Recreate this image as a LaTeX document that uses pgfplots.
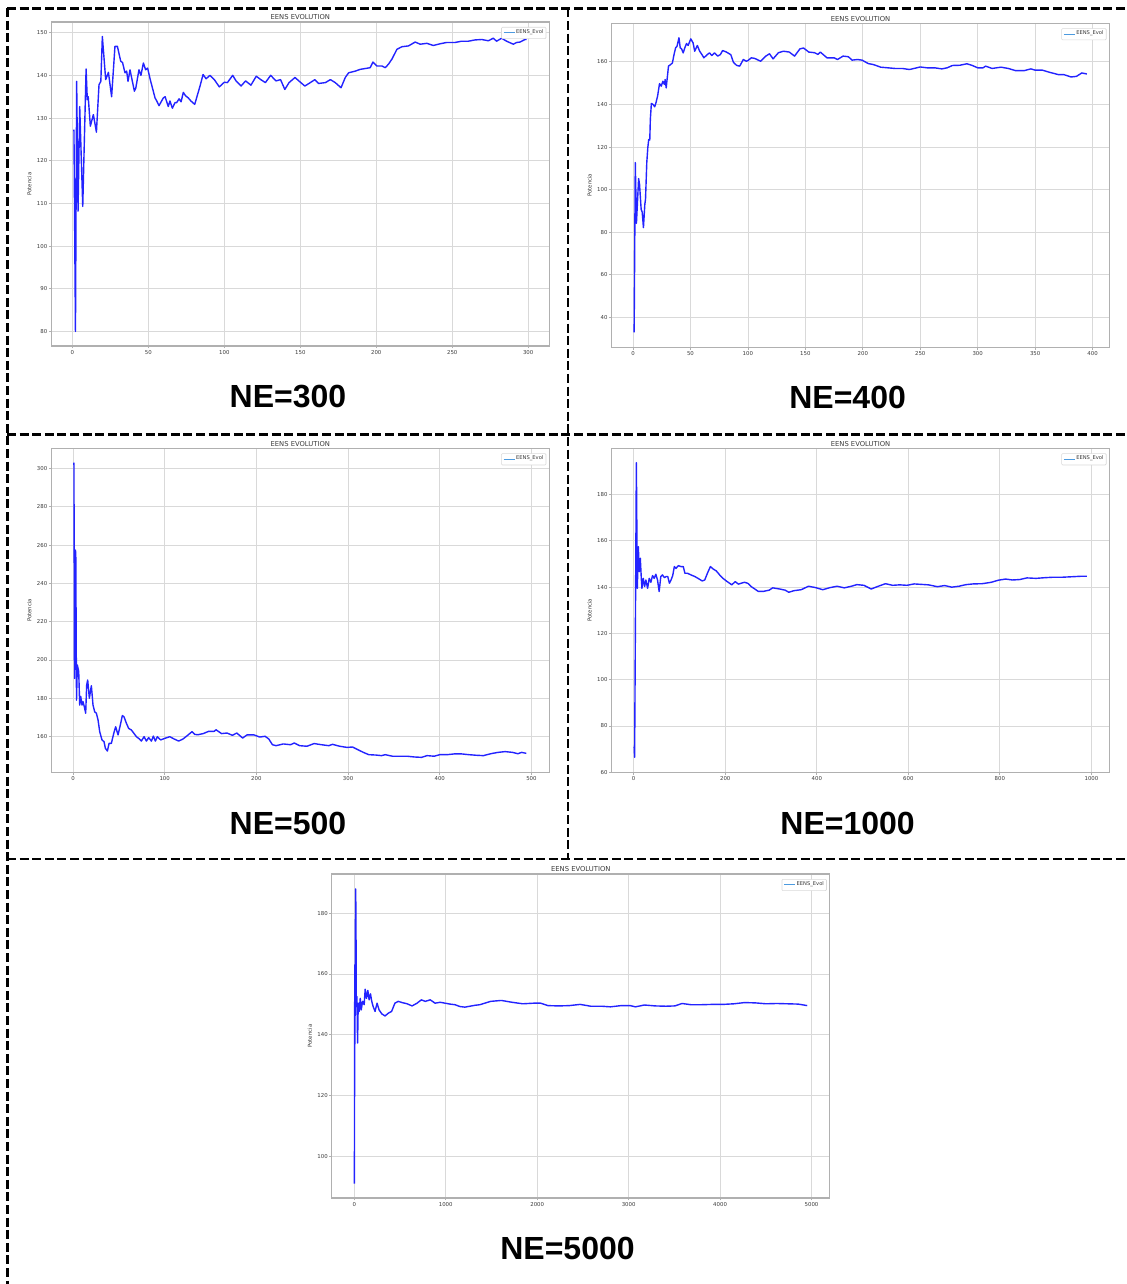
\documentclass[border=0pt]{standalone}
\usepackage{fontspec}
\setmainfont{DejaVu Sans}
\newfontfamily\arialf{Liberation Sans}
\usepackage{pgfplots}
\pgfplotsset{compat=1.18}
\definecolor{gridc}{HTML}{D9D9D9}
\definecolor{framec}{HTML}{B0B0B0}
\definecolor{txtc}{HTML}{3A3A3A}
\definecolor{linec}{RGB}{35,35,255}
\definecolor{legc}{HTML}{4C9BE0}
\pgfplotsset{
  eens/.style={
    scale only axis, width=249pt, height=162pt, anchor=north west,
    axis line style={framec, line width=0.6pt},
    grid=major, grid style={gridc, line width=0.4pt},
    tick align=outside, major tick length=1.2pt,
    tick style={framec, line width=0.4pt},
    xtick pos=bottom, ytick pos=left,
    /pgf/number format/assume math mode=true,
    /pgf/number format/1000 sep={},
    scaled ticks=false,
    ticklabel style={font=\fontsize{2.7}{3}\selectfont, text=txtc, inner sep=0.6pt},
    title={EENS EVOLUTION},
    every axis title/.style={at={(0.5,1)}, anchor=south, yshift=0.4pt, inner sep=0.5pt,
      font=\fontsize{3.4}{4}\selectfont, text=txtc},
    ylabel={Potencia},
    ylabel style={at={(axis description cs:-0.044,0.5)}, anchor=center,
      font=\fontsize{2.7}{3}\selectfont, text=txtc, inner sep=0pt},
    legend style={at={(1,1)}, anchor=north east, xshift=-1.5pt, yshift=-2.5pt,
      draw=gridc, line width=0.3pt, rounded corners=0.5pt,
      font=\fontsize{2.6}{3}\selectfont, text=txtc,
      inner xsep=0.8pt, inner ysep=0.6pt,
      nodes={inner sep=0.5pt}},
    legend image code/.code={\draw[#1] (0pt,0pt) -- (5.5pt,0pt);},
    every axis plot/.append style={linec, line width=0.7pt, line join=round},
  }
}
\begin{document}
\begin{tikzpicture}
\path[use as bounding box] (0pt,0pt) rectangle (563pt,-642pt);
\begin{scope}[line width=1.4pt, dash pattern=on 4.5pt off 1.8pt, black]
\draw (3.5pt,-4.25pt) -- (563pt,-4.25pt);
\draw (3.75pt,-4pt) -- (3.75pt,-642pt);
\draw (284pt,-4.25pt) -- (284pt,-429.5pt);
\draw (3.5pt,-217.25pt) -- (563pt,-217.25pt);
\draw (3.5pt,-429.5pt) -- (563pt,-429.5pt);
\end{scope}

% NE=300
\begin{axis}[eens, at={(25.65pt,-11pt)},
  xmin=-13.9, xmax=313.9, ymin=76.6, ymax=152.5,
  xtick={0,50,...,300}, ytick={80,90,...,150}]
\addlegendimage{color=legc, line width=0.5pt}
\addlegendentry{EENS\_Evol}
\addplot[forget plot] coordinates {
(1,127.3)(2,80)(2.8,138.6)(3.7,108.2)(4.8,132.7)(6.8,109.3)(9,141.5)(9.8,134.3)(10.4,135)
(11.8,128.1)(13.8,130.8)(15.8,126.7)(17.5,137.8)(18.7,138.6)(19.7,149.1)(21.9,139)(23.7,140.7)
(25.8,135)(28,146.8)(29.6,146.8)(31.8,143.3)(33,143)(34.6,140.6)(35.7,141)(36.6,138.6)(37.9,141.3)
(40.8,136.3)(41.7,137)(43.8,141.3)(45.1,140)(46.7,142.9)(48.2,141.3)(49.5,141.7)(51.1,139.2)
(54.4,134.7)(55.5,134)(57,132.9)(59.8,134.7)(61,135)(63.1,132.7)(64.2,134)(65.8,132.3)(67.5,133.6)
(68.6,133.6)(70.2,134.5)(71.5,133.8)(73,136)(74.5,135.2)(76.3,134.7)(78,134)(80.5,133.2)(84,137.5)
(86,140.2)(88,139.2)(90.5,140)(93.4,139)(96.7,137.3)(100,138.4)(102,138.3)(105.5,140)(107.7,138.7)
(111,137.5)(114,138.7)(117.5,137.7)(121,139.8)(124,139)(127,138.3)(130.5,140)(134,138.7)(137,139)
(139.8,136.7)(142.6,138.3)(146.5,139.5)(150,138.4)(153,137.5)(155.7,138.1)(159.6,139)(162,138.1)
(166.5,138.3)(169.8,139)(173,138.3)(176.8,137.1)(179.6,139.5)(181.8,140.6)(186.2,141)(189.4,141.4)
(192.7,141.6)(196,141.8)(197.8,143.1)(200.4,142.2)(203.7,142.2)(205.9,141.8)(208,142.6)(210.3,143.8)
(213.6,146.1)(216.8,146.7)(221.2,146.9)(225.6,147.8)(228.9,147.3)(233.3,147.5)(237.6,147)(242,147.4)
(246.3,147.7)(251.8,147.7)(256.2,148)(260.6,148)(265,148.3)(269.4,148.4)(273.8,148.1)(277,148.7)
(279.2,148)(282.5,148.7)(285.8,148)(290.2,147.3)(292.4,147.7)(294.6,147.8)(297.9,148.4)(299,148.4)
};
\end{axis}

% NE=400
\begin{axis}[eens, at={(305.75pt,-11.65pt)},
  xmin=-18.7, xmax=414.7, ymin=26, ymax=178.1,
  xtick={0,50,...,400}, ytick={40,60,...,160}]
\addlegendimage{color=legc, line width=0.5pt}
\addlegendentry{EENS\_Evol}
\addplot[forget plot] coordinates {
(1,33)(2,112.7)(3,84.2)(4.9,105.2)(5.7,102.5)(7.1,90.8)(8,89.5)(9.1,82.2)(10.3,93.1)(10.9,95.5)
(12,112.7)(12.9,119.7)(13.7,123.6)(14.6,123.3)(15.1,133)(16,140.5)(17.4,140)(18.9,138.9)(20,140.8)
(21.4,143.9)(23.1,149.8)(24.6,148.6)(26,150.9)(27.4,149.4)(28,151.7)(28.9,147.8)(30.9,158)(32.9,158.8)
(34.3,159.5)(35.7,163.4)(37.1,166.6)(38.3,167.3)(40,171.3)(41.1,166.6)(42.3,166.1)(43.7,164.2)
(45.1,166.6)(46.6,168.6)(48,167.7)(50.3,170.8)(52.3,168.9)(53.7,165)(56,167.7)(58,165)(60,163.4)
(61.7,161.9)(64.6,163.4)(66.6,164.2)(68.6,163)(70.9,164.2)(73.7,162.7)(76,163.4)(78,165.3)(80.9,164.7)
(85.1,163.4)(87.4,159.8)(90.3,158.3)(92.9,158)(96,161.1)(98.6,160.3)(100,160.6)(103,161.9)(106,161.6)
(111,160.3)(115.6,162.7)(118.8,163.8)(121.9,161.4)(126.6,164.3)(131,165)(136,164.6)(140.6,162.7)
(145.3,166.1)(148.4,166.5)(153,164.6)(158,164.3)(161,163.5)(163,164.6)(168.8,161.9)(175,161.9)
(178,161.1)(182.8,162.7)(187.5,162.4)(190.6,160.8)(195.3,161.1)(199.4,160.8)(204.7,159.2)(209.4,158.7)
(215.6,157.5)(221.9,157.2)(228,156.9)(234.4,156.9)(240.6,156.4)(246.9,157.2)(250,157.6)(256,157.2)
(262.5,157.2)(268.8,156.7)(273.4,157.2)(278,158.3)(284.4,158.4)(290.6,159.1)(295.3,158.3)(300,157.2)
(304.7,157.2)(306.9,158)(312.5,156.9)(320.3,157.5)(326.6,156.9)(332.8,155.9)(340.6,155.9)(346.3,156.7)
(350,156.1)(356.3,156.1)(362.5,155.1)(370.3,154)(375,154)(381.3,152.9)(386,153.2)(390.6,154.8)(395,154.3)
};
\end{axis}

% NE=500
\begin{axis}[eens, at={(25.65pt,-224.15pt)},
  xmin=-23.7, xmax=519.5, ymin=141.4, ymax=310.5,
  xtick={0,100,...,500}, ytick={160,180,...,300}]
\addlegendimage{color=legc, line width=0.5pt}
\addlegendentry{EENS\_Evol}
\addplot[forget plot] coordinates {
(1,303)(1.6,190.4)(2.5,257.4)(3,256)(3.8,179.1)(4.7,197.4)(6.2,194)(7.3,176.5)(8.4,181)(9.8,176.5)
(10.9,178.3)(12.7,174.8)(13.8,172.2)(14.9,187)(16,189.6)(17.8,180)(20,186.6)(21.8,176.5)(23.6,173)
(25.5,172.2)(27.3,168.7)(29.1,162.6)(31.6,158.3)(33.8,157.4)(35.3,153.9)(37.5,152.5)(39.3,156.5)
(41.8,156.5)(44.4,161.7)(46.5,165.2)(49.1,160.9)(51.6,166.1)(53.8,171)(55.6,170.4)(58.2,167)(60.7,164.3)
(63.6,163.5)(66.5,161.7)(69.1,160)(71.6,159.1)(74.5,157.7)(77.5,160)(80,157.7)(82.5,159.5)(85.5,157.7)
(87.6,160.3)(89.8,157.7)(92,160)(95.6,158.3)(100,159.1)(105.5,160)(110.2,158.8)(115.3,157.7)(120,158.8)
(125.5,160.9)(129.8,162.6)(132.7,161.2)(136,161)(142,161.6)(148,162.8)(154,162.8)(156,163.6)(162,161.6)
(168,161.9)(173.8,160.7)(178.6,161.9)(185,159.3)(189.7,160.9)(197.6,160.9)(203.6,159.8)(209.5,160.2)
(213.5,158.8)(217.5,155.8)(221.4,155.3)(229.4,156.2)(237.3,155.8)(241.3,156.7)(247.2,155.3)(255.2,155)
(263,156.4)(271,155.8)(279,155.3)(283,156)(290.9,155)(298.8,154.4)(304.8,154.6)(310.7,153.2)(316.7,151.8)
(322.6,150.6)(330.6,150.4)(336.5,150.1)(340.5,150.6)(348.4,149.8)(356.3,149.8)(364.3,149.8)(372.2,149.4)
(380.2,149.2)(386.1,150.1)(394,149.8)(400,150.6)(408,150.6)(415.9,151)(423.8,151)(431.7,150.6)
(439.7,150.3)(447.6,150.1)(455.6,151.1)(463.5,151.8)(471.4,152.2)(479.4,151.8)(485.3,151.1)(489.3,151.8)(494.4,151.3)
};
\end{axis}

% NE=1000
\begin{axis}[eens, at={(305.75pt,-224.15pt)},
  xmin=-48.5, xmax=1039.5, ymin=60, ymax=200,
  xtick={0,200,...,1000}, ytick={60,80,...,180}]
\addlegendimage{color=legc, line width=0.5pt}
\addlegendentry{EENS\_Evol}
\addplot[forget plot] coordinates {
(1,71)(2,66.5)(5.8,193.8)(7.9,139.5)(10.1,157.5)(12.3,146.7)(14.4,152.5)(16.6,143.8)(18,139.5)
(20.9,143.8)(23.8,140.3)(26.7,143.1)(30.3,139.5)(33.9,143.8)(37.5,142.1)(41.2,145)(44.8,143.8)
(48.4,145.6)(52,143.1)(55.6,138.1)(59.2,144.6)(62.8,145.3)(67.1,144.1)(70.8,144.6)(74.4,144.6)
(78,141.7)(81.6,143.1)(85.2,145)(88.8,148.9)(92.4,148.1)(97.5,149.3)(103.2,148.9)(108.3,148.9)
(111.9,146)(117.7,146)(124.9,145.3)(133.6,144.6)(142.2,143.6)(149.5,142.7)(155.2,143.1)(161,146)
(167.5,148.9)(173.3,147.9)(180.5,147)(187.7,145.3)(195,143.8)(202.2,142.7)(209.4,141.7)(214.4,141)
(221.7,142.4)(228.9,141.3)(234.7,141.7)(241.9,142.1)(249.1,141.7)(256.3,140.3)(272,138.2)(284,138.2)
(295.8,138.7)(303.6,139.7)(319,139.2)(331,138.7)(338.8,137.8)(350.5,138.5)(366,138.9)(381.8,140.4)
(397.5,139.8)(413,138.9)(428.8,139.8)(444.4,140.4)(460,139.7)(475.7,140.4)(487.5,141.1)(503,140.8)
(518.8,139.2)(534.4,140.4)(550,141.5)(565.7,140.8)(581.4,141)(597,140.8)(612.7,141.4)(628.3,141.2)
(644,141)(663.5,140.2)(679.2,140.7)(694.8,140)(710.5,140.4)(726.1,141.1)(741.8,141.4)(761.3,141.5)
(781,142.1)(796.6,143)(812.2,143.5)(827.9,143.1)(843.5,143.3)(859.2,144)(878.7,143.8)(898.3,144.1)
(917.8,144.3)(937.4,144.3)(957,144.5)(976.5,144.7)(990,144.7)
};
\end{axis}

% NE=5000
\begin{axis}[eens, at={(165.9pt,-437pt)},
  xmin=-246, xmax=5200, ymin=86.3, ymax=192.9,
  xtick={0,1000,...,5000}, ytick={100,120,...,180}]
\addlegendimage{color=legc, line width=0.5pt}
\addlegendentry{EENS\_Evol}
\addplot[forget plot] coordinates {
(1,91)(3,124)(5,163)(7,137)(10,160)(14,188)(18,181)(21.7,149.3)(28.9,152.6)(36,137.3)(43,150.4)
(54,147.7)(65,152)(76,148.2)(90,151)(108,149.9)(119,155)(134,152)(148,154.6)(162,151.5)(177,153.5)
(191,151)(206,149.3)(227,147.7)(249,150.4)(271,148.2)(300,146.9)(336,146.2)(372,147.1)(408,147.7)
(444,150.4)(480,151)(523,150.6)(578,150.2)(632,149.5)(686,150.4)(733,151.5)(776,151)(830,151.5)
(884,150.4)(939,150.7)(993,150.4)(1047,150.1)(1101,149.9)(1155,149.3)(1209,149.1)(1264,149.4)
(1318,149.7)(1373,149.9)(1491,151)(1608,151.3)(1725,150.7)(1843,150.2)(1960,150.4)(2038,150.4)
(2117,149.6)(2234,149.5)(2351,149.6)(2469,150)(2586,149.4)(2703,149.4)(2801,149.2)(2919,149.6)
(3016,149.6)(3075,149.2)(3173,149.8)(3290,149.5)(3408,149.4)(3505,149.5)(3584,150.3)(3681,149.9)
(3799,149.9)(3916,150)(4034,150)(4151,150.2)(4268,150.6)(4386,150.5)(4503,150.2)(4620,150.3)
(4738,150.2)(4855,150.1)(4953,149.6)
};
\end{axis}

\node[font=\arialf\bfseries\fontsize{16}{18}\selectfont] at (144pt,-198.5pt) {NE=300};
\node[font=\arialf\bfseries\fontsize{16}{18}\selectfont] at (423.8pt,-198.5pt) {NE=400};
\node[font=\arialf\bfseries\fontsize{16}{18}\selectfont] at (144pt,-411.5pt) {NE=500};
\node[font=\arialf\bfseries\fontsize{16}{18}\selectfont] at (423.8pt,-411.5pt) {NE=1000};
\node[font=\arialf\bfseries\fontsize{16}{18}\selectfont] at (283.75pt,-624pt) {NE=5000};
\end{tikzpicture}
\end{document}
